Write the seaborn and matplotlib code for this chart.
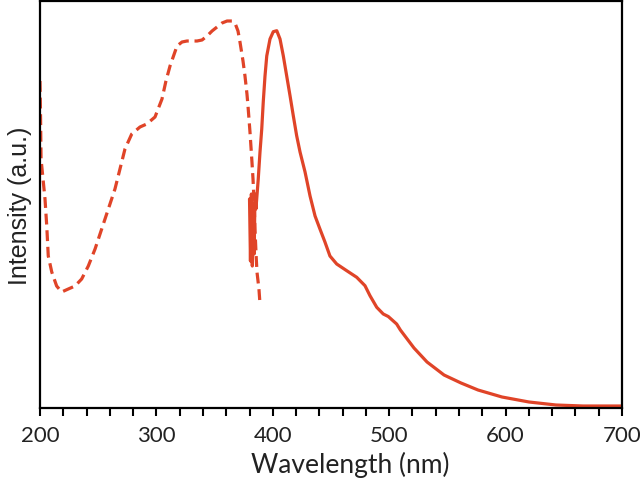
import matplotlib
matplotlib.use("Agg")
import matplotlib.pyplot as plt
import seaborn as sns
import pandas as pd
from matplotlib.ticker import MultipleLocator

# Excitation spectrum (dashed): wavelength (nm) and pixel-read height
exc_nm = [200.0, 200.5, 200.9, 204.3, 205.8, 207.1, 210.1, 214.3, 218.6, 224.3, 230.1,
          235.8, 241.5, 247.3, 253.0, 258.7, 264.4, 268.7, 273.0, 278.8,
          285.9, 291.7, 298.8, 304.8, 308.2, 311.7, 317.7, 322.0, 326.3, 334.9, 339.2,
          343.5, 347.8, 352.1, 356.4, 360.7, 364.9, 367.5, 370.1, 371.8, 374.4, 376.1,
          377.8, 378.7, 380.4, 382.1, 383.0, 383.8, 384.7, 385.6, 386.4, 388.1, 389.0]
exc_px = [82, 120, 160, 200, 227, 257, 273, 287, 293, 290, 287,
          280, 267, 250, 230, 210, 190, 170, 150, 135,
          128, 125, 118, 100, 82, 67, 47, 43, 42, 42, 41,
          37, 32, 28, 24, 22, 22, 24, 32, 43, 62, 77,
          95, 107, 133, 163, 180, 200, 230, 255, 273, 290, 305]

# Emission spectrum (solid)
em_nm = [380.0, 380.8, 381.6, 382.4, 383.2, 384.0, 384.7, 385.5, 387.5, 389.0, 390.5,
         391.8, 393.3, 394.8, 397.6, 400.4, 403.4, 406.2, 409.0, 411.9, 414.8, 417.6,
         420.5, 423.4, 427.7, 432.0, 436.3, 440.5, 444.8, 449.1, 454.9, 463.5, 472.1,
         479.2, 483.5, 489.3, 494.9, 499.2, 506.4, 509.6, 521.3, 532.5, 547.1, 561.7,
         576.3, 596.9, 620.1, 643.3, 666.5, 700.0]
em_px = [200, 262, 195, 267, 205, 255, 195, 210, 180, 153, 130,
         103, 77, 57, 40, 32.7, 31.7, 40, 56.7, 76.7, 96.7, 116.7,
         136.7, 153, 173, 197, 217, 230, 243, 257, 265, 271.7, 278.3,
         286.7, 296.7, 308.3, 315, 317.5, 325, 331, 349, 363, 376, 384,
         391, 398, 403, 406, 407, 407]

exc_int = [(409 - p) / 407 for p in exc_px]
em_int = [(409 - p) / 407 for p in em_px]

x_ticks = [200, 300, 400, 500, 600, 700]

sns.set_style("white")
plt.rcParams['font.family'] = ['Liberation Sans', 'DejaVu Sans']

fig = plt.figure(figsize=(6.4, 4.85), dpi=100)
ax = fig.add_axes([40 / 640, 1 - 409 / 485, 582 / 640, 407 / 485])

color = "#E04428"
exc_df = pd.DataFrame({"nm": exc_nm, "I": exc_int})
em_df = pd.DataFrame({"nm": em_nm, "I": em_int})

sns.lineplot(data=exc_df, x="nm", y="I", ax=ax, color=color, lw=2.3,
             linestyle=(0, (3.4, 1.8)), sort=False, estimator=None)
sns.lineplot(data=em_df, x="nm", y="I", ax=ax, color=color, lw=2.3,
             sort=False, estimator=None)

ax.set_xlim(200, 700)
ax.set_ylim(0, 1.0)
ax.set_xticks(x_ticks)
ax.set_xticklabels([str(t) for t in x_ticks], family=['Lato', 'DejaVu Sans'],
                   fontsize=16, color='#222222')
ax.xaxis.set_minor_locator(MultipleLocator(20))
ax.set_yticks([])
ax.tick_params(axis='x', which='both', direction='out', length=6, width=1.5,
               bottom=True, top=False, color='black', pad=6)
for s in ax.spines.values():
    s.set_visible(True)
    s.set_color('black')
    s.set_linewidth(1.6)

ax.set_xlabel("Wavelength (nm)", family=['Lato', 'DejaVu Sans'], fontsize=19,
              color='#222222')
ax.xaxis.set_label_coords(0.533, -0.105)
ax.set_ylabel("Intensity (a.u.)", fontsize=18, labelpad=6, color='#222222')

fig.savefig("out.png", dpi=100)
